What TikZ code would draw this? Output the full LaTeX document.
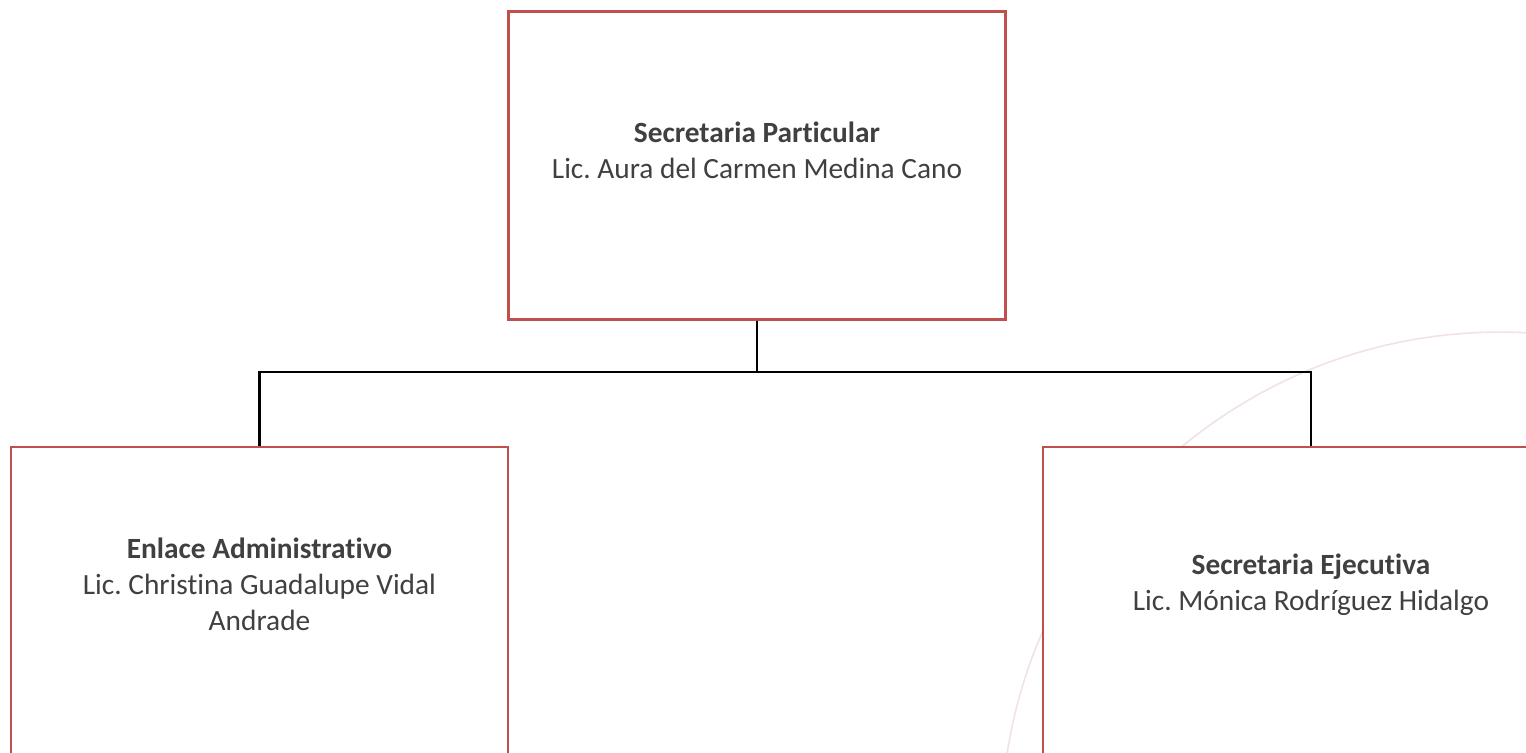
\documentclass[tikz,border=0pt]{standalone}
\usepackage{fontspec}
\setmainfont{Carlito}[RawFeature=-liga]
\frenchspacing
\definecolor{boxred}{RGB}{192,80,77}
\definecolor{txtgray}{RGB}{64,64,64}
\definecolor{ringpink}{RGB}{240,226,229}
\tikzset{
  orgbox/.style={rectangle,draw=boxred,line width=1.3pt,fill=white,minimum width=497*0.02cm,minimum height=308*0.02cm},
  orgtext/.style={align=center,text=txtgray,font=\fontsize{16.7}{20.4}\selectfont},
  conn/.style={draw=black,line width=1.4pt}
}
\begin{document}
\begin{tikzpicture}[x=0.02cm,y=-0.02cm]
        \clip (0,0) rectangle (1526,752);
        \fill[white] (0,0) rectangle (1526,752);
        % faint ring in the background
        \draw[ringpink,line width=0.9pt] (1500,831) circle[radius=9.98cm];

        % Head: Secretaria Particular
        \node[orgbox] (part) at (757,165.5) {};
        \node[orgtext] (parttxt) at (757,150) {\textbf{Secretaria Particular}\\Lic. Aura del Carmen Medina Cano};

        % Staff boxes
        \node[orgbox] (enlace) at (259.5,601) {};
        \node[orgtext] (enlacetxt) at (259.5,584) {\textbf{Enlace Administrativo}\\Lic. Christina Guadalupe Vidal\\Andrade};
        \node[orgbox,minimum width=536*0.02cm] (ejec) at (1311,601) {};
        \node[orgtext] (ejectxt) at (1311,585) {\textbf{Secretaria Ejecutiva}\\Lic. Mónica Rodríguez Hidalgo};

        % Connectors
        \coordinate (bus) at (757,372);
        \draw[conn] (part.south) -- (bus);
        \draw[conn] (enlace.north) |- (bus) -| (ejec.north);
    \end{tikzpicture}
\end{document}
